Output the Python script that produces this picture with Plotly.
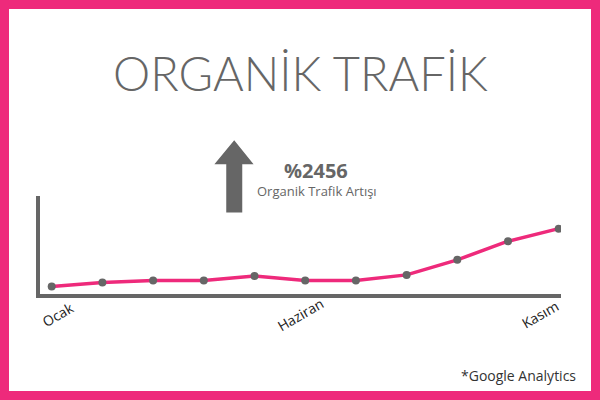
import plotly.graph_objects as go

months = ["Ocak", "Şubat", "Mart", "Nisan", "Mayıs", "Haziran", "Temmuz", "Ağustos", "Eylül", "Ekim", "Kasım"]
traffic = [7, 11, 13, 13, 17.5, 13, 13, 18.5, 33.5, 52, 64.5]
shown_labels = {"Ocak": 6, "Haziran": -5, "Kasım": -19}

PINK = "#EE2A7B"
GRAY = "#666666"

W, H = 600, 400
x_left, x_right = 40, 561
y_top, y_bot = 196, 293.5

idx = list(range(len(months)))

fig = go.Figure()
fig.add_trace(go.Scatter(
    x=idx, y=traffic, mode="lines+markers",
    line=dict(color=PINK, width=3.5),
    marker=dict(color=GRAY, size=8),
    hoverinfo="skip", showlegend=False,
))

shapes = [
    dict(type="rect", xref="x2", yref="y2", x0=4.5, y0=4.5, x1=595.5, y1=395.5,
         line=dict(color=PINK, width=9), fillcolor="rgba(0,0,0,0)", layer="above"),
    dict(type="path", xref="x2", yref="y2",
         path="M 227 211.7 L 241.5 211.7 L 241.5 163.5 L 252 163.5 L 234.2 141.5 L 216 163.5 L 227 163.5 Z",
         fillcolor=GRAY, line=dict(color=GRAY, width=1.5)),
]

annotations = [
    dict(text="ORGANİK TRAFİK", xref="x2", yref="y2", x=300, y=73, showarrow=False,
         font=dict(family="Lato", size=47, color=GRAY, weight=300), xanchor="center", yanchor="middle"),
    dict(text="<b>%2456</b>", xref="x2", yref="y2", x=316, y=170, showarrow=False,
         font=dict(family="Open Sans", size=20, color=GRAY), xanchor="center", yanchor="middle"),
    dict(text="Organik Trafik Artışı", xref="x2", yref="y2", x=316.5, y=191, showarrow=False,
         font=dict(family="Open Sans", size=13, color=GRAY), xanchor="center", yanchor="middle"),
    dict(text="*Google Analytics", xref="x2", yref="y2", x=578, y=375, showarrow=False,
         font=dict(family="Open Sans", size=14, color="#333333"), xanchor="right", yanchor="middle"),
]
for name, shift in shown_labels.items():
    annotations.append(dict(text=name, xref="x", yref="y2", x=months.index(name), y=314,
                            xshift=shift, showarrow=False, textangle=-30,
                            font=dict(family="Open Sans", size=14, color="#222222"),
                            xanchor="center", yanchor="middle"))

step = (558.7 - 51.7) / 10
xr0 = -(51.7 - x_left) / step
xr1 = 10 + (x_right - 558.7) / step

fig.update_layout(
    width=W, height=H,
    margin=dict(l=0, r=0, t=0, b=0),
    paper_bgcolor="white", plot_bgcolor="rgba(0,0,0,0)",
    xaxis=dict(domain=[x_left / W, x_right / W], range=[xr0, xr1],
               showline=True, linecolor=GRAY, linewidth=3.5, showgrid=False,
               zeroline=False, showticklabels=False, ticks=""),
    yaxis=dict(domain=[(H - y_bot) / H, (H - y_top) / H], range=[0, 97],
               showline=True, linecolor=GRAY, linewidth=3.5, showgrid=False,
               zeroline=False, showticklabels=False, ticks=""),
    xaxis2=dict(domain=[0, 1], range=[0, W], visible=False, anchor="y2"),
    yaxis2=dict(domain=[0, 1], range=[H, 0], visible=False, anchor="x2"),
    shapes=shapes, annotations=annotations,
)

fig.write_html(
    "out.html",
    config={"displayModeBar": False},
    post_script="document.body.style.margin='0';document.body.style.overflow='hidden';window.scrollTo(0,0);",
)
